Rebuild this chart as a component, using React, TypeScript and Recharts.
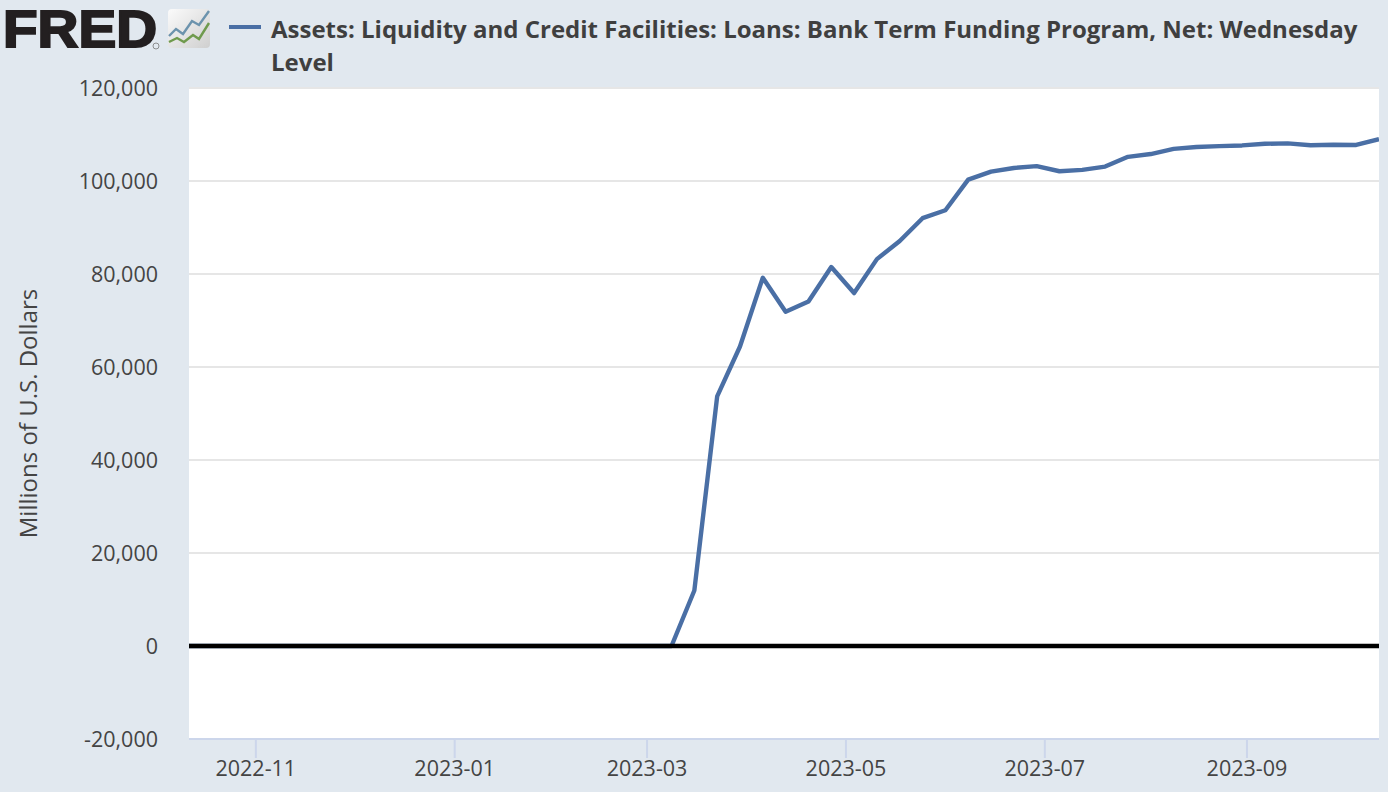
import React from "react";
import { LineChart, Line, XAxis, YAxis, CartesianGrid, ReferenceLine } from "recharts";

const dates = [
  "2022-10-05","2022-10-12","2022-10-19","2022-10-26","2022-11-02","2022-11-09","2022-11-16","2022-11-23","2022-11-30",
  "2022-12-07","2022-12-14","2022-12-21","2022-12-28","2023-01-04","2023-01-11","2023-01-18","2023-01-25",
  "2023-02-01","2023-02-08","2023-02-15","2023-02-22","2023-03-01","2023-03-08","2023-03-15","2023-03-22",
  "2023-03-29","2023-04-05","2023-04-12","2023-04-19","2023-04-26","2023-05-03","2023-05-10","2023-05-17",
  "2023-05-24","2023-05-31","2023-06-07","2023-06-14","2023-06-21","2023-06-28","2023-07-05","2023-07-12",
  "2023-07-19","2023-07-26","2023-08-02","2023-08-09","2023-08-16","2023-08-23","2023-08-30","2023-09-06",
  "2023-09-13","2023-09-20","2023-09-27","2023-10-04","2023-10-11",
];
const values = [
  0,0,0,0,0,0,0,0,0,
  0,0,0,0,0,0,0,0,
  0,0,0,0,0,0,11943,53669,
  64400,79200,71900,74100,81500,75900,83200,87100,
  92000,93700,100300,102000,102800,103200,102100,102400,
  103100,105200,105800,106900,107300,107500,107650,108000,
  108100,107700,107800,107750,109000,
];
const xStart = "2022-10-11";
const xEnd = "2023-10-11";
const xTickLabels = ["2022-11-01","2023-01-01","2023-03-01","2023-05-01","2023-07-01","2023-09-01"];
const yTicks = [-20000,0,20000,40000,60000,80000,100000,120000];
const seriesName = "Assets: Liquidity and Credit Facilities: Loans: Bank Term Funding Program, Net: Wednesday Level";
const yAxisTitle = "Millions of U.S. Dollars";

const toTime = (s: string) => Date.parse(s + "T00:00:00Z");
const HALF_DAY = 43200000;
const rows = dates.map((d, i) => ({ t: toTime(d), v: values[i] }));
const FONT = "'Open Sans', sans-serif";

export default function App() {
  return (
    <div style={{ position: "fixed", left: 0, top: 0, width: 1388, height: 792, background: "#e1e8ef", overflow: "hidden", fontFamily: FONT }}>
      <LineChart width={1388} height={792} data={rows} margin={{ top: 88, right: 9, bottom: 0, left: 0 }} style={{ position: "absolute", left: 0, top: 0 }}>
        <CartesianGrid vertical={false} stroke="#e6e6e6" strokeWidth={2} fill="#ffffff" />
        <XAxis
          dataKey="t"
          type="number"
          scale="time"
          allowDataOverflow
          domain={[toTime(xStart), toTime(xEnd)]}
          ticks={xTickLabels.map((s) => toTime(s) - HALF_DAY)}
          tickFormatter={(t: number) => new Date(t + HALF_DAY).toISOString().slice(0, 7)}
          height={53}
          tickSize={19}
          tickMargin={3}
          stroke="#ccd6eb"
          strokeWidth={2}
          tick={{ fill: "#444444", fontSize: 21.5, fontFamily: FONT }}
          interval={0}
        />
        <YAxis
          domain={[-20000, 120000]}
          ticks={yTicks}
          width={189}
          axisLine={false}
          tickLine={false}
          tickSize={0}
          tickMargin={31}
          tickFormatter={(v: number) => v.toLocaleString("en-US")}
          tick={{ fill: "#444444", fontSize: 21.5, fontFamily: FONT }}
          interval={0}
          label={{ value: yAxisTitle, angle: -90, position: "insideLeft", dx: 23, dy: 0, style: { fill: "#444444", fontSize: 24, fontFamily: FONT, textAnchor: "middle" } }}
        />
        <Line dataKey="v" type="linear" stroke="#4a6fa5" strokeWidth={4.4} dot={false} isAnimationActive={false} strokeLinejoin="round" />
        <ReferenceLine y={0} stroke="#000000" strokeWidth={4.4} />
      </LineChart>
      <svg width={215} height={56} style={{ position: "absolute", left: 0, top: 0 }}>
        <text x={3} y={46.5} fontFamily="'Liberation Sans', sans-serif" fontWeight={700} fontSize={51} fill="#231f20" stroke="#231f20" strokeWidth={2} textLength={154} lengthAdjust="spacingAndGlyphs">FRED</text>
        <circle cx={156} cy={46} r={3} fill="none" stroke="#777" strokeWidth={0.8} />
        <defs>
          <linearGradient id="ico" x1="0" y1="0" x2="1" y2="1">
            <stop offset="0" stopColor="#fbfbfb" />
            <stop offset="1" stopColor="#cfcfcf" />
          </linearGradient>
        </defs>
        <rect x={168} y={9} width={42} height={39} rx={4} fill="url(#ico)" />
        <polyline points="169,36 176,29 183,34 192,21 199,25 209,11" fill="none" stroke="#6c93ad" strokeWidth={2.4} />
        <polyline points="169,42 177,38 184,42 193,35 199,39 209,23" fill="none" stroke="#6f9a4d" strokeWidth={2.4} />
      </svg>
      <div style={{ position: "absolute", left: 229, top: 25, width: 32, height: 4, background: "#4a6fa5" }} />
      <div style={{ position: "absolute", left: 271, top: 12, width: 1110, fontSize: 24, lineHeight: "33px", fontWeight: 700, color: "#3f3f3f" }}>
        {seriesName}
      </div>
    </div>
  );
}
